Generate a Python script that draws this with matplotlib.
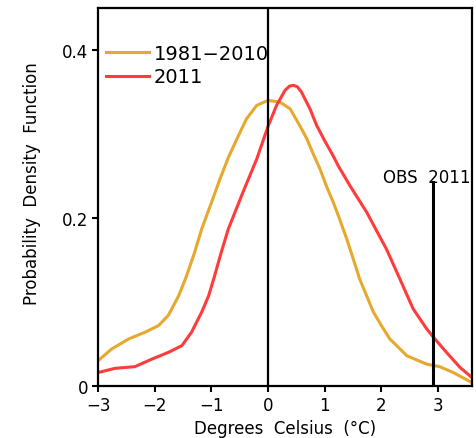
import matplotlib
matplotlib.use("Agg")
import matplotlib.pyplot as plt

plt.rcParams['font.family'] = ['DejaVu Sans']

x_base = [-3.0, -2.76, -2.46, -2.17, -1.93, -1.76, -1.58, -1.46, -1.30, -1.17, -1.0, -0.85,
          -0.70, -0.55, -0.38, -0.20, 0.0, 0.21, 0.39, 0.56, 0.68, 0.80, 0.92, 1.03, 1.15,
          1.24, 1.39, 1.62, 1.86, 2.0, 2.15, 2.45, 2.80, 3.03, 3.27, 3.6]
y_base = [0.030, 0.044, 0.056, 0.064, 0.072, 0.084, 0.107, 0.127, 0.158, 0.187, 0.218, 0.246,
          0.272, 0.294, 0.318, 0.334, 0.340, 0.338, 0.330, 0.310, 0.295, 0.276, 0.258, 0.238,
          0.219, 0.203, 0.175, 0.127, 0.088, 0.072, 0.056, 0.036, 0.026, 0.023, 0.016, 0.004]

x_2011 = [-3.0, -2.70, -2.35, -2.05, -1.76, -1.52, -1.35, -1.17, -1.05, -0.96, -0.83, -0.70,
          -0.44, -0.20, 0.0, 0.15, 0.30, 0.38, 0.45, 0.52, 0.59, 0.74, 0.86, 1.0, 1.15, 1.24,
          1.45, 1.74, 2.09, 2.33, 2.56, 2.80, 2.92, 3.15, 3.39, 3.6]
y_2011 = [0.016, 0.021, 0.023, 0.032, 0.040, 0.048, 0.064, 0.088, 0.107, 0.127, 0.158, 0.187,
          0.231, 0.270, 0.309, 0.334, 0.352, 0.357, 0.358, 0.356, 0.350, 0.330, 0.310, 0.292,
          0.274, 0.262, 0.238, 0.207, 0.163, 0.127, 0.092, 0.068, 0.058, 0.040, 0.022, 0.010]

obs_2011 = 2.91
obs_height = 0.243

fig = plt.figure(figsize=(4.77, 4.39), dpi=100)
ax = fig.add_axes([0.2055, 0.1185, 0.784, 0.861])

ax.plot(x_base, y_base, color='#E6A92E', lw=2.2, label='1981\u22122010',
        solid_joinstyle='round')
ax.plot(x_2011, y_2011, color='#FF3B3B', lw=2.2, label='2011', solid_joinstyle='round')
ax.axvline(0, color='black', lw=1.6)
ax.plot([obs_2011, obs_2011], [0, obs_height], color='black', lw=2.2)
ax.text(2.81, obs_height, 'OBS  2011', ha='center', va='baseline', fontsize=12)

ax.set_xlim(-3, 3.6)
ax.set_ylim(0, 0.45)
ax.set_xticks([-3, -2, -1, 0, 1, 2, 3])
ax.set_xticklabels(['\u22123', '\u22122', '\u22121', '0', '1', '2', '3'])
ax.set_yticks([0, 0.2, 0.4])
ax.set_yticklabels(['0', '0.2', '0.4'])
ax.tick_params(direction='out', length=4, width=1.5, labelsize=12, top=False, right=False,
               pad=3)
for s in ax.spines.values():
    s.set_linewidth(1.6)

ax.set_xlabel('Degrees  Celsius  (\u00b0C)', fontsize=12, labelpad=4)
ax.set_ylabel('Probability  Density  Function', fontsize=12, va='center')
ax.yaxis.set_label_coords(-0.176, 0.538)

ax.legend(loc='upper left', bbox_to_anchor=(0.0, 0.925), frameon=False, fontsize=14,
          handlelength=2.2, handletextpad=0.25, labelspacing=0.22, borderaxespad=0)

fig.savefig('out.png', dpi=100)
